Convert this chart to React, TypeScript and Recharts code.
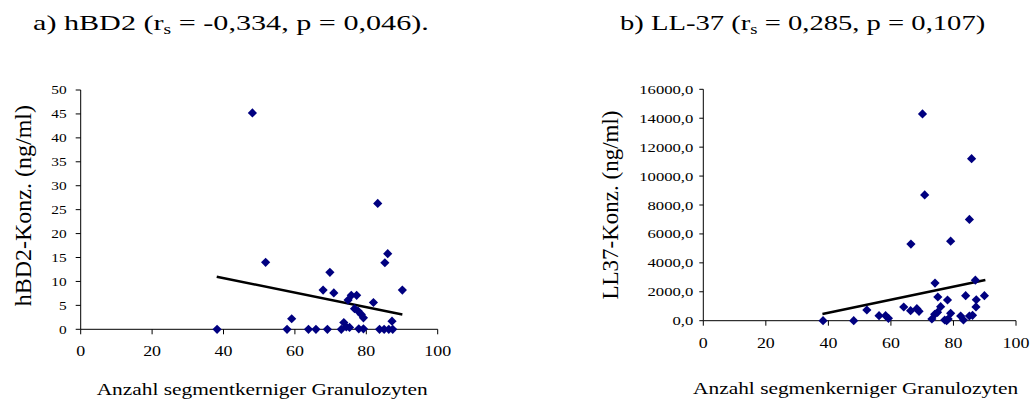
import React from 'react'
import { ScatterChart, Scatter, XAxis, YAxis, ReferenceLine, Label } from 'recharts'

// hBD2 vs. segmented granulocytes
const hbdX = [38.2, 48.1, 51.8, 57.8, 59.1, 63.8, 65.9, 69.1, 67.9, 69.8, 70.9, 73.0, 73.7, 74.4, 75.3, 74.9, 75.8, 77.3, 76.7, 77.7, 78.6, 79.2, 77.9, 79.2, 82.0, 83.2, 86.0, 85.2, 83.7, 85.0, 86.3, 87.4, 87.2, 90.1]
const hbdY = [0, 45.2, 14.0, 0, 2.2, 0, 0, 0, 8.2, 11.9, 7.6, 0, 1.4, 0.5, 0.4, 6.1, 7.1, 7.1, 4.3, 3.8, 3.1, 2.4, 0.1, 0.1, 5.6, 26.3, 15.8, 13.9, 0, 0, 0, 0, 1.7, 8.2]
const hbdTrend = [[38.1, 11.0], [90.1, 3.1]]

// LL-37 vs. segmented granulocytes
const llX = [38.3, 48.1, 52.3, 56.2, 58.3, 59.2, 64.1, 66.3, 66.4, 68.3, 69.0, 70.1, 70.8, 74.1, 75.0, 75.9, 74.9, 74.0, 73.1, 77.2, 77.8, 78.3, 78.1, 79.1, 79.1, 82.3, 83.2, 83.9, 85.1, 85.8, 85.1, 86.1, 87.0, 87.3, 87.2, 89.9]
const llY = [0, 0, 740, 346, 346, 166, 948, 692, 5300, 830, 650, 14300, 8700, 2600, 1640, 970, 580, 440, 118, 50, 0, 118, 1430, 5500, 510, 325, 50, 1730, 7000, 11200, 325, 370, 2800, 1450, 950, 1730]
const llTrend = [[38.1, 460], [90.2, 2820]]

const xTicks = [0, 20, 40, 60, 80, 100]
const hbdTicks = [0, 5, 10, 15, 20, 25, 30, 35, 40, 45, 50]
const llTicks = [0, 2000, 4000, 6000, 8000, 10000, 12000, 14000, 16000]

const serif = '"Liberation Serif", "Times New Roman", serif'
const NAVY = '#000080'
const SX = 1.28 // text in this figure is drawn horizontally widened

const zip = (xs: number[], ys: number[]) => xs.map((x, i) => ({ x, y: ys[i] }))

const Diamond = (p: any) => {
  const { cx, cy } = p
  const r = 4.6
  return <polygon points={`${cx},${cy - r} ${cx + r},${cy} ${cx},${cy + r} ${cx - r},${cy}`} fill={NAVY} />
}

const Tick = ({ x, y, payload, anchor, size, dy, fmt }: any) => (
  <g transform={`translate(${x},${y})`}>
    <text transform={`scale(${SX},1)`} textAnchor={anchor} dy={dy} fontSize={size} fontFamily={serif} fill="#000">
      {fmt ? fmt(payload.value) : payload.value}
    </text>
  </g>
)

const XTitle = ({ viewBox, text, dx, dy }: any) => {
  const cx = viewBox.x + viewBox.width / 2 + dx
  const y = viewBox.y + dy
  return (
    <g transform={`translate(${cx},${y})`}>
      <text transform={`scale(${SX},1)`} textAnchor="middle" fontSize={16.7} fontFamily={serif} fill="#000">{text}</text>
    </g>
  )
}

const YTitle = ({ viewBox, text, dx, dy, size }: any) => {
  const cx = viewBox.x + dx
  const cy = viewBox.y + viewBox.height / 2 + dy
  return (
    <text x={cx} y={cy} transform={`rotate(-90, ${cx}, ${cy})`} textAnchor="middle" dominantBaseline="central"
      fontSize={size} fontFamily={serif} fill="#000">{text}</text>
  )
}

const axisStroke = { stroke: '#000', strokeWidth: 1 }
const comma1 = (v: number) => v.toFixed(1).replace('.', ',')

const Title = ({ left, name, rs, p, end, sx }: any) => (
  <div style={{
    position: 'absolute', left, top: 11.6, fontFamily: serif, fontSize: 22, lineHeight: '22px',
    whiteSpace: 'nowrap', transform: `scaleX(${sx})`, transformOrigin: 'left top', color: '#000',
  }}>
    {name} (r<span style={{ fontSize: '0.65em', position: 'relative', top: '0.3em' }}>s</span> = {rs}, p = {p}{end}
  </div>
)

export default function App() {
  return (
    <div style={{ position: 'absolute', left: 0, top: 0, width: 1033, height: 404, background: '#fff', overflow: 'hidden' }}>
      <Title left={33} name="a) hBD2" rs="-0,334" p="0,046" end=")." sx={1.37} />
      <Title left={620} name="b) LL-37" rs="0,285" p="0,107" end=")" sx={1.3} />

      <div style={{ position: 'absolute', left: 0, top: 0 }}>
        <ScatterChart width={460} height={404} margin={{ top: 90, right: 22.3, bottom: 44.7, left: 0 }}>
          <XAxis type="number" dataKey="x" domain={[0, 100]} ticks={xTicks} height={30} interval={0}
            axisLine={axisStroke} tickLine={axisStroke} tickSize={5} tickMargin={16.4}
            tick={(t: any) => <Tick {...t} anchor="middle" size={14} dy="0.35em" />}>
            <Label content={(p: any) => <XTitle viewBox={p.viewBox} text="Anzahl segmentkerniger Granulozyten" dx={3} dy={65.7} />} />
          </XAxis>
          <YAxis type="number" dataKey="y" domain={[0, 50]} ticks={hbdTicks} width={80.7} interval={0}
            axisLine={axisStroke} tickLine={axisStroke} tickSize={5} tickMargin={9}
            tick={(t: any) => <Tick {...t} anchor="end" size={12} dy="0.35em" />}>
            <Label content={(p: any) => <YTitle viewBox={p.viewBox} text="hBD2-Konz. (ng/ml)" dx={23} dy={-4} size={24} />} />
          </YAxis>
          <Scatter data={zip(hbdX, hbdY)} shape={Diamond} isAnimationActive={false} />
          <ReferenceLine segment={hbdTrend.map(([x, y]) => ({ x, y }))} stroke="#000" strokeWidth={2.5} />
        </ScatterChart>
      </div>

      <div style={{ position: 'absolute', left: 520, top: 0 }}>
        <ScatterChart width={513} height={404} margin={{ top: 89.3, right: 17, bottom: 53.3, left: 0 }}>
          <XAxis type="number" dataKey="x" domain={[0, 100]} ticks={xTicks} height={30} interval={0}
            axisLine={axisStroke} tickLine={axisStroke} tickSize={5} tickMargin={17.3}
            tick={(t: any) => <Tick {...t} anchor="middle" size={14} dy="0.35em" />}>
            <Label content={(p: any) => <XTitle viewBox={p.viewBox} text="Anzahl segmenkerniger Granulozyten" dx={-4} dy={73.3} />} />
          </XAxis>
          <YAxis type="number" dataKey="y" domain={[0, 16000]} ticks={llTicks} width={183.3} interval={0}
            axisLine={axisStroke} tickLine={axisStroke} tickSize={4} tickMargin={6}
            tick={(t: any) => <Tick {...t} anchor="end" size={13} dy="0.35em" fmt={comma1} />}>
            <Label content={(p: any) => <YTitle viewBox={p.viewBox} text="LL37-Konz. (ng/ml)" dx={90} dy={0} size={23} />} />
          </YAxis>
          <Scatter data={zip(llX, llY)} shape={Diamond} isAnimationActive={false} />
          <ReferenceLine segment={llTrend.map(([x, y]) => ({ x, y }))} stroke="#000" strokeWidth={2.5} />
        </ScatterChart>
      </div>
    </div>
  )
}
